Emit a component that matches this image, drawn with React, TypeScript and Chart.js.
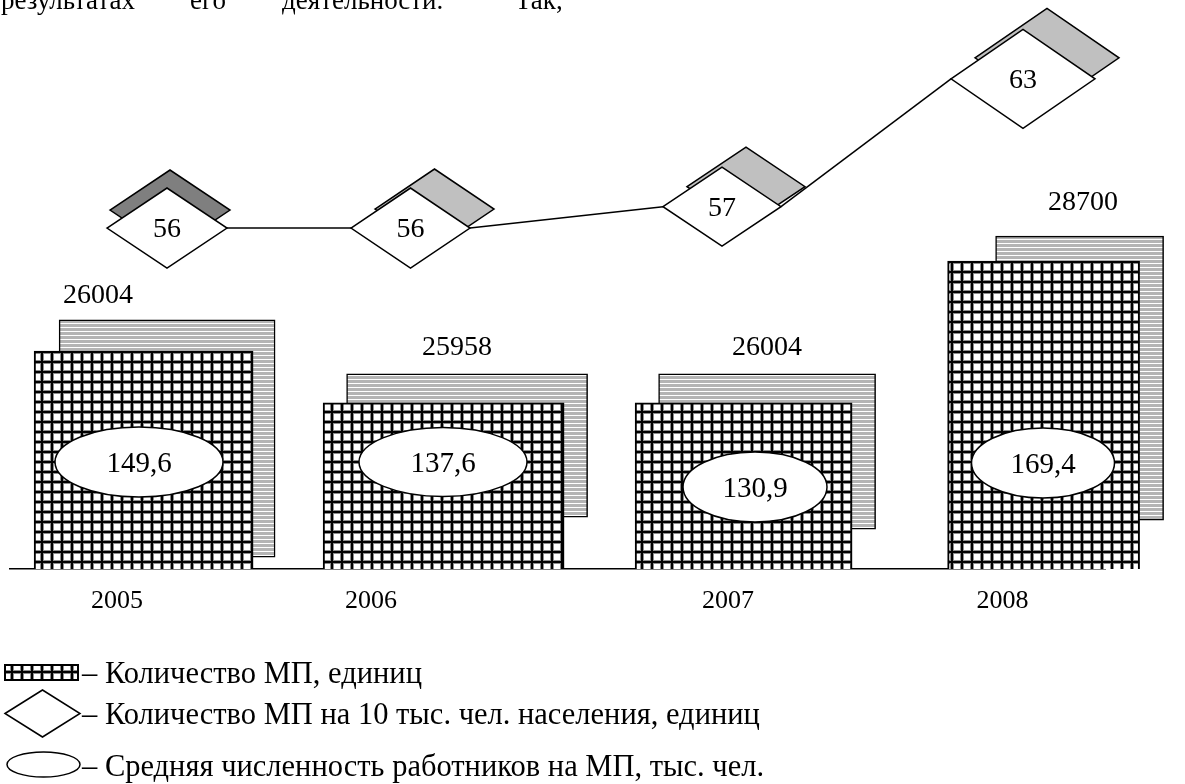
import React, { useEffect, useRef } from "react";
import { Chart, registerables } from "chart.js";

Chart.register(...registerables);

// ---------- data ----------
const years = [2005, 2006, 2007, 2008];
const countMP = [26004, 25958, 26004, 28700]; // Количество МП, единиц (labels above bars)
const perTenThousand = [56, 56, 57, 63]; // Количество МП на 10 тыс. чел. населения
const avgEmployees = [149.6, 137.6, 130.9, 169.4]; // Средняя численность работников на МП, тыс. чел.
// drawn bar heights as they appear in the original (percent of plot height)
const frontBarHeight = [38.3, 29.2, 29.2, 54.1];
const backBarTop = [43.8, 34.3, 34.3, 58.5];
const backBarBase = [2.1, 9.1, 7.0, 8.6];

const legendLabels = [
  "– Количество МП, единиц",
  "– Количество МП на 10 тыс. чел. населения, единиц",
  "– Средняя численность работников на МП, тыс. чел.",
];
const headerWords = ["результатах", "его", "деятельности.", "Так,"];

// ---------- layout / style ----------
const W = 1185;
const H = 784;
const PLOT_LEFT = 10;
const PLOT_RIGHT = 1105;
const PLOT_BOTTOM = 569;
const PX_PER_YEAR = 300;
const FIRST_CENTER = 143.6;
const X_MIN = years[0] - (FIRST_CENTER - PLOT_LEFT) / PX_PER_YEAR;
const X_MAX = X_MIN + (PLOT_RIGHT - PLOT_LEFT) / PX_PER_YEAR;
const DEPTH_SHIFT = 23.5;
const DEPTH_SHIFT_LAST = 36;

const frontWidth = [219, 241, 217, 192];
const backWidth = [216, 241, 217, 168];
const diamondDx = [23.4, -33.1, -21.6, -20.6];
const diamondW = [120, 119, 118, 144];
const diamondH = [80, 80, 79, 99];
const diamondShadow = [
  [3, -18],
  [24, -19],
  [24, -20],
  [24, -21],
];
const diamondShadowColor = ["#7f7f7f", "#c0c0c0", "#c0c0c0", "#c0c0c0"];
const ellipseDx = [-4.6, -0.6, 11.4, -0.6];
const ellipseLift = [107, 107, 82, 106];
const ellipseW = [168, 168, 144, 143];
const ellipseH = [70, 69, 70, 70];
const valueLabelDx = [-69, -10, 0, 3.4];
const valueLabelGap = [24, 26, 26, 33];
const yearDx = [-26.6, -72.6, -15.6, -41.1];
const YEAR_Y = 601;
const SERIF = "'Liberation Serif', 'Times New Roman', serif";
const LEGEND_FONT = 30.5;

function makeGridPattern(ctx: CanvasRenderingContext2D) {
  const c = document.createElement("canvas");
  c.width = 10;
  c.height = 10;
  const g = c.getContext("2d")!;
  g.fillStyle = "#ffffff";
  g.fillRect(0, 0, 10, 10);
  g.fillStyle = "#8c8c8c";
  g.fillRect(0, 0, 4, 10);
  g.fillRect(0, 0, 10, 4);
  g.fillStyle = "#000000";
  g.fillRect(1, 0, 2, 10);
  g.fillRect(0, 1, 10, 2);
  return ctx.createPattern(c, "repeat")!;
}

function makeStripePattern(ctx: CanvasRenderingContext2D) {
  const c = document.createElement("canvas");
  c.width = 4;
  c.height = 4;
  const g = c.getContext("2d")!;
  g.fillStyle = "#b4b4b4";
  g.fillRect(0, 0, 4, 3);
  g.fillStyle = "#ffffff";
  g.fillRect(0, 3, 4, 1);
  return ctx.createPattern(c, "repeat")!;
}

function diamondPath(ctx: CanvasRenderingContext2D, cx: number, cy: number, w: number, h: number) {
  ctx.beginPath();
  ctx.moveTo(cx - w / 2, cy);
  ctx.lineTo(cx, cy - h / 2);
  ctx.lineTo(cx + w / 2, cy);
  ctx.lineTo(cx, cy + h / 2);
  ctx.closePath();
}

export default function App() {
  const canvasRef = useRef<HTMLCanvasElement>(null);

  useEffect(() => {
    const canvas = canvasRef.current!;
    const ctx = canvas.getContext("2d")!;
    const grid = makeGridPattern(ctx);
    const stripes = makeStripePattern(ctx);

    const backSets = years.map((yr, i) => ({
      type: "bar" as const,
      data: [{ x: yr, y: [backBarBase[i], backBarTop[i]] }],
      xAxisID: i === 3 ? "xc" : "xb",
      yAxisID: "yb",
      backgroundColor: stripes,
      borderColor: "#000",
      borderWidth: 1.5,
      borderSkipped: false,
      barThickness: backWidth[i],
      grouped: false,
      clip: false,
      order: 3,
    }));
    const frontSets = years.map((yr, i) => ({
      type: "bar" as const,
      data: [{ x: yr, y: frontBarHeight[i] }],
      xAxisID: "x",
      yAxisID: "yb",
      backgroundColor: grid,
      borderColor: "#000",
      borderWidth: 2,
      borderSkipped: "bottom",
      barThickness: frontWidth[i],
      grouped: false,
      clip: false,
      order: 2,
    }));
    const lineSet = {
      type: "line" as const,
      data: years.map((yr, i) => ({ x: yr, y: perTenThousand[i] })),
      xAxisID: "x",
      yAxisID: "yl",
      showLine: false,
      pointRadius: 0,
      borderColor: "#000",
      clip: false,
      order: 1,
    };
    const LINE_INDEX = 8;

    const overlay = {
      id: "overlay",
      afterDatasetsDraw(chart: any) {
        const c: CanvasRenderingContext2D = chart.ctx;
        c.save();
        c.fillStyle = "#000";
        c.textAlign = "center";
        c.textBaseline = "middle";

        // ellipses with average employees
        years.forEach((_, i) => {
          const el = chart.getDatasetMeta(4 + i).data[0];
          const cx = el.x + ellipseDx[i];
          const cy = el.base - ellipseLift[i];
          c.beginPath();
          c.ellipse(cx, cy, ellipseW[i] / 2, ellipseH[i] / 2, 0, 0, Math.PI * 2);
          c.fillStyle = "#fff";
          c.fill();
          c.lineWidth = 1.5;
          c.strokeStyle = "#000";
          c.stroke();
          c.fillStyle = "#000";
          c.font = `29px ${SERIF}`;
          c.fillText(avgEmployees[i].toFixed(1).replace(".", ","), cx, cy + 2);
        });

        // value labels above back bars
        years.forEach((_, i) => {
          const el = chart.getDatasetMeta(i).data[0];
          c.font = `28px ${SERIF}`;
          c.fillStyle = "#000";
          c.fillText(String(countMP[i]), el.x + valueLabelDx[i], el.y - valueLabelGap[i]);
        });

        // line connectors & diamonds
        const pts = chart.getDatasetMeta(LINE_INDEX).data.map((p: any, i: number) => ({
          x: p.x + diamondDx[i],
          y: p.y,
        }));
        c.lineWidth = 1.5;
        c.strokeStyle = "#000";
        for (let i = 0; i < pts.length - 1; i++) {
          c.beginPath();
          c.moveTo(pts[i].x + diamondW[i] / 2, pts[i].y);
          c.lineTo(pts[i + 1].x - diamondW[i + 1] / 2, pts[i + 1].y);
          c.stroke();
        }
        pts.forEach((p: any, i: number) => {
          const [sx, sy] = diamondShadow[i];
          diamondPath(c, p.x + sx, p.y + sy, diamondW[i], diamondH[i]);
          c.fillStyle = diamondShadowColor[i];
          c.fill();
          c.stroke();
          diamondPath(c, p.x, p.y, diamondW[i], diamondH[i]);
          c.fillStyle = "#fff";
          c.fill();
          c.stroke();
          c.fillStyle = "#000";
          c.font = `28px ${SERIF}`;
          c.fillText(String(perTenThousand[i]), p.x, p.y + 2);
        });

        // year labels
        const xs = chart.scales.x;
        c.font = `26px ${SERIF}`;
        years.forEach((yr, i) => {
          c.fillText(String(yr), xs.getPixelForValue(yr) + yearDx[i], YEAR_Y);
        });

        // legend
        c.textAlign = "left";
        c.font = `${LEGEND_FONT}px ${SERIF}`;
        c.fillStyle = grid;
        c.fillRect(5, 665, 73, 15);
        c.lineWidth = 2;
        c.strokeRect(5, 665, 73, 15);
        c.fillStyle = "#000";
        c.fillText(legendLabels[0], 82, 675);
        c.lineWidth = 1.5;
        diamondPath(c, 42.5, 713.5, 75, 47);
        c.fillStyle = "#fff";
        c.fill();
        c.stroke();
        c.fillStyle = "#000";
        c.fillText(legendLabels[1], 82, 716);
        c.beginPath();
        c.ellipse(43.5, 764.5, 36.5, 12.5, 0, 0, Math.PI * 2);
        c.fillStyle = "#fff";
        c.fill();
        c.stroke();
        c.fillStyle = "#000";
        c.fillText(legendLabels[2], 82, 768);

        // cut header text line
        c.font = `27px ${SERIF}`;
        c.textBaseline = "alphabetic";
        c.textAlign = "right";
        c.fillText(headerWords[0], 135, 9);
        c.textAlign = "left";
        c.fillText(headerWords[1], 190, 9);
        c.fillText(headerWords[2], 282, 9);
        c.fillText(headerWords[3], 515, 9);
        c.restore();
      },
    };

    const chart = new Chart(canvas, {
      type: "bar",
      data: { datasets: [...backSets, ...frontSets, lineSet] as any },
      options: {
        responsive: false,
        animation: false,
        events: [],
        layout: { padding: { left: PLOT_LEFT, right: W - PLOT_RIGHT, top: 0, bottom: H - PLOT_BOTTOM } },
        plugins: { legend: { display: false }, tooltip: { enabled: false } },
        scales: {
          x: {
            type: "linear",
            offset: false,
            min: X_MIN,
            max: X_MAX,
            grid: { display: false, drawTicks: false, offset: false },
            ticks: { display: false },
            border: { display: true, color: "#000", width: 1.5 },
          },
          xb: {
            type: "linear",
            display: false,
            offset: false,
            min: X_MIN - DEPTH_SHIFT / PX_PER_YEAR,
            max: X_MAX - DEPTH_SHIFT / PX_PER_YEAR,
          },
          xc: {
            type: "linear",
            display: false,
            offset: false,
            min: X_MIN - DEPTH_SHIFT_LAST / PX_PER_YEAR,
            max: X_MAX - DEPTH_SHIFT_LAST / PX_PER_YEAR,
          },
          yb: { type: "linear", display: false, min: 0, max: 100 },
          yl: { type: "linear", display: false, min: 40, max: 66.7 },
        },
      } as any,
      plugins: [overlay],
    });
    return () => chart.destroy();
  }, []);

  return (
    <div style={{ position: "absolute", left: 0, top: 0, width: W, height: H, background: "#fff" }}>
      <canvas ref={canvasRef} width={W} height={H} style={{ display: "block" }} />
    </div>
  );
}
